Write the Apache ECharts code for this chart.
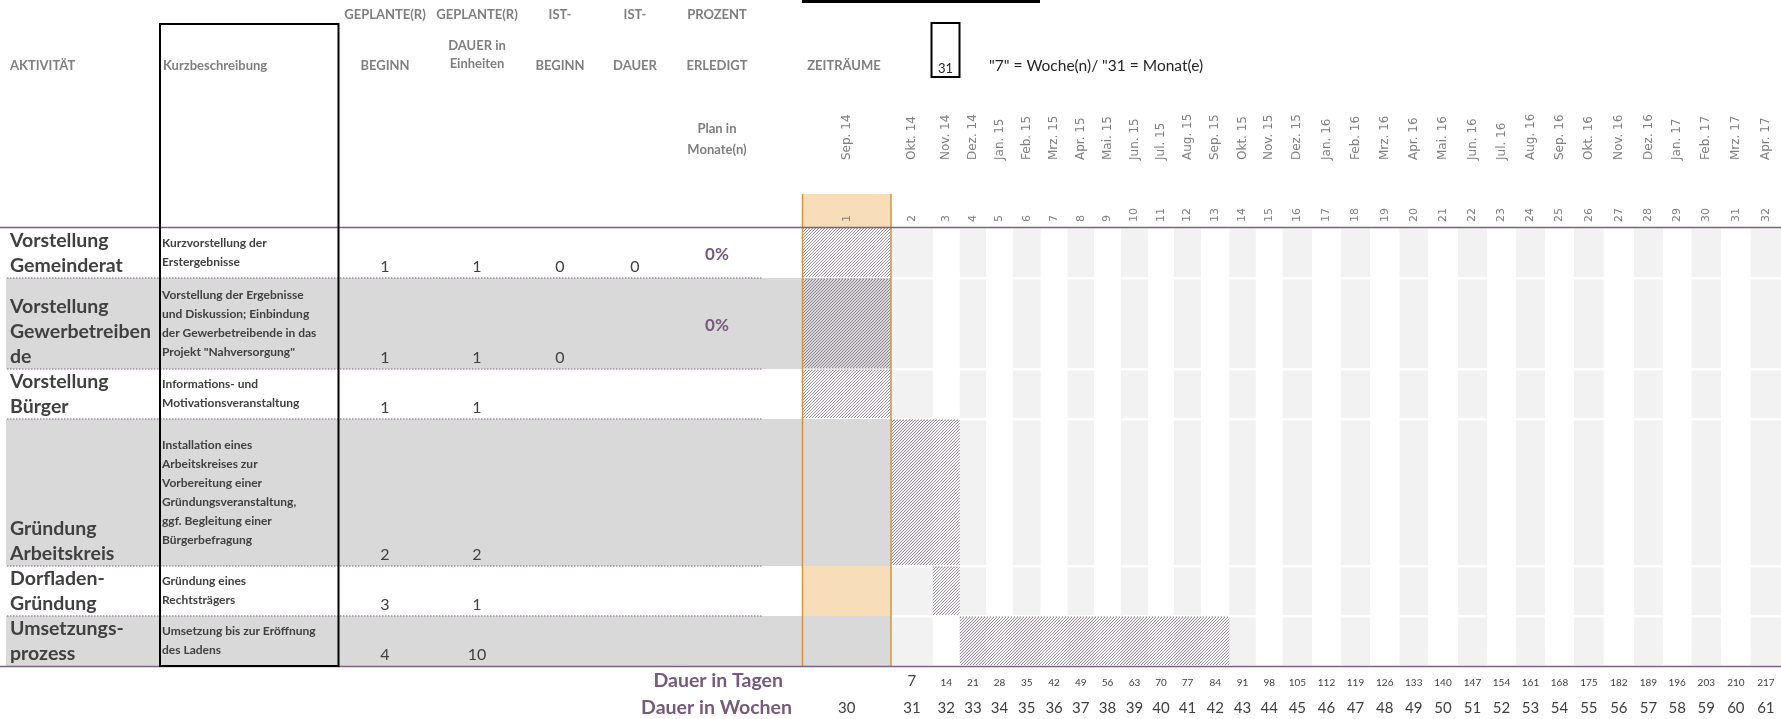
<!DOCTYPE html>
<html>
<head>
<meta charset="utf-8">
<title>Projektplan Dorfladen</title>
<script src="https://cdn.jsdelivr.net/npm/echarts@6/dist/echarts.min.js"></script>
<style>
  html, body { margin: 0; padding: 0; background: #fff; }
  #chart { width: 1781px; height: 719px; }
</style>
</head>
<body>
<div id="chart"></div>
<script>
// Daten
const activities = [
  ['Vorstellung', 'Gemeinderat'],
  ['Vorstellung', 'Gewerbetreiben', 'de'],
  ['Vorstellung', 'Bürger'],
  ['Gründung', 'Arbeitskreis'],
  ['Dorfladen-', 'Gründung'],
  ['Umsetzungs-', 'prozess']
];
const descriptions = [
  ['Kurzvorstellung der', 'Erstergebnisse'],
  ['Vorstellung der Ergebnisse', 'und Diskussion; Einbindung', 'der Gewerbetreibende in das', 'Projekt "Nahversorgung"'],
  ['Informations- und', 'Motivationsveranstaltung'],
  ['Installation eines', 'Arbeitskreises zur', 'Vorbereitung einer', 'Gründungsveranstaltung,', 'ggf. Begleitung einer', 'Bürgerbefragung'],
  ['Gründung eines', 'Rechtsträgers'],
  ['Umsetzung bis zur Eröffnung', 'des Ladens']
];
const planStart = [1, 1, 1, 2, 3, 4];
const planDuration = [1, 1, 1, 2, 1, 10];
const istStart = [0, 0, null, null, null, null];
const istDuration = [0, null, null, null, null, null];
const percentDone = [0, 0, null, null, null, null];

const months = ['Sep. 14', 'Okt. 14', 'Nov. 14', 'Dez. 14', 'Jan. 15', 'Feb. 15', 'Mrz. 15', 'Apr. 15',
  'Mai. 15', 'Jun. 15', 'Jul. 15', 'Aug. 15', 'Sep. 15', 'Okt. 15', 'Nov. 15', 'Dez. 15',
  'Jan. 16', 'Feb. 16', 'Mrz. 16', 'Apr. 16', 'Mai. 16', 'Jun. 16', 'Jul. 16', 'Aug. 16',
  'Sep. 16', 'Okt. 16', 'Nov. 16', 'Dez. 16', 'Jan. 17', 'Feb. 17', 'Mrz. 17', 'Apr. 17'];
const periods = [1, 2, 3, 4, 5, 6, 7, 8, 9, 10, 11, 12, 13, 14, 15, 16,
  17, 18, 19, 20, 21, 22, 23, 24, 25, 26, 27, 28, 29, 30, 31, 32];
const daysLabels = [null, 7, 14, 21, 28, 35, 42, 49, 56, 63, 70, 77, 84, 91, 98, 105,
  112, 119, 126, 133, 140, 147, 154, 161, 168, 175, 182, 189, 196, 203, 210, 217];
const weeksLabels = [30, 31, 32, 33, 34, 35, 36, 37, 38, 39, 40, 41, 42, 43, 44, 45,
  46, 47, 48, 49, 50, 51, 52, 53, 54, 55, 56, 57, 58, 59, 60, 61];

// Layout (Tabellenraster, in Achseneinheiten)
const rowEdges = [227, 278, 369, 419, 566, 616, 666];
const colEdges = [802.5, 891, 932.8, 959.8, 986, 1013, 1040.6, 1067.6, 1094, 1121, 1148, 1174,
  1201, 1229.4, 1255.7, 1282.7, 1312, 1341, 1370, 1399.5, 1428, 1458, 1487, 1516, 1545, 1574,
  1603.7, 1634, 1662.8, 1691.6, 1721, 1750.7, 1781];
const numCols = [385, 477, 560, 635];
const pctX = 717;

const PURPLE = '#76597b';
const TXT = '#404040';
const HEAD = '#7f7f7f';
const ORANGE = '#d9933a';
const ORANGE_FILL = '#f8ddb9';
const ROW_GRAY = '#d9d9d9';
const STRIPE = '#f2f2f2';
const FONT = 'Lato, "Open Sans", sans-serif';

// Schraffur (feine Diagonale)
const hatch = document.createElement('canvas');
hatch.width = 3; hatch.height = 3;
(function () {
  const ctx = hatch.getContext('2d');
  for (let i = 0; i < 3; i++) {
    ctx.fillStyle = 'rgba(105,88,115,0.68)';
    ctx.fillRect(i, 2 - i, 1, 1);
  }
})();
const hatchFill = { image: hatch, repeat: 'repeat' };

const chart = echarts.init(document.getElementById('chart'));

function X(api, v) { return api.coord([v, 0])[0]; }
function Y(api, v) { return api.coord([0, v])[1]; }
function txt(x, y, text, o) {
  return {
    type: 'text', x: x, y: y,
    style: Object.assign({
      text: String(text), fill: TXT, fontFamily: FONT, fontSize: 16,
      align: 'center', verticalAlign: 'middle'
    }, o || {})
  };
}

const rowIdx = activities.map((a, i) => [i]);
const colIdx = months.map((m, c) => [c]);

const option = {
  animation: false,
  backgroundColor: '#fff',
  grid: { left: 0, right: 0, top: 0, bottom: 0 },
  xAxis: { type: 'value', min: 0, max: 1781, show: false },
  yAxis: { type: 'value', min: 0, max: 719, inverse: true, show: false },
  series: [
    {
      // Zeilenhintergrund + Spaltenstreifen
      type: 'custom', name: 'rows', z: 1, data: rowIdx,
      renderItem(params, api) {
        const i = params.dataIndex;
        const top = Y(api, rowEdges[i]), bot = Y(api, rowEdges[i + 1]);
        const ch = [];
        if (i % 2 === 1) {
          ch.push({ type: 'rect', shape: { x: X(api, 6), y: top, width: X(api, colEdges[1]) - X(api, 6), height: bot - top }, style: { fill: ROW_GRAY } });
        } else if (planStart[i] !== 1) {
          ch.push({ type: 'rect', shape: { x: X(api, colEdges[0]), y: top, width: X(api, colEdges[1]) - X(api, colEdges[0]), height: bot - top }, style: { fill: ORANGE_FILL } });
        }
        for (let c = 1; c < months.length; c += 2) {
          const x0 = X(api, colEdges[c]), x1 = X(api, colEdges[c + 1]);
          ch.push({ type: 'rect', shape: { x: x0, y: top + 1.5, width: x1 - x0, height: bot - top - 2.5 }, style: { fill: STRIPE } });
        }
        return { type: 'group', children: ch };
      }
    },
    {
      // geplante Balken
      type: 'custom', name: 'plan', z: 2,
      data: planStart.map((s, i) => [i, s, planDuration[i]]),
      renderItem(params, api) {
        const i = api.value(0), s = api.value(1), d = api.value(2);
        const x0 = X(api, colEdges[s - 1]), x1 = X(api, colEdges[s - 1 + d]);
        const top = Y(api, rowEdges[i]) + 1, bot = Y(api, rowEdges[i + 1]) - 1;
        return {
          type: 'group', children: [
            { type: 'rect', shape: { x: x0, y: top, width: x1 - x0, height: bot - top }, style: { fill: hatchFill } },
            { type: 'line', shape: { x1: x0, y1: top, x2: x1, y2: top }, style: { stroke: '#8a7590', lineWidth: 1, lineDash: [1, 2] } }
          ]
        };
      }
    },
    {
      // Tabellentexte
      type: 'custom', name: 'table', z: 5, data: rowIdx,
      renderItem(params, api) {
        const i = params.dataIndex;
        const top = Y(api, rowEdges[i]), bot = Y(api, rowEdges[i + 1]);
        const mid = (top + bot) / 2;
        const ch = [];
        const a = activities[i];
        a.forEach((line, k) => {
          ch.push(txt(X(api, 10), bot - 12 - (a.length - 1 - k) * 25, line,
            { align: 'left', fontSize: 19.5, fontWeight: 'bold' }));
        });
        const d = descriptions[i];
        d.forEach((line, k) => {
          ch.push(txt(X(api, 162), mid + (k - (d.length - 1) / 2) * 19, line,
            { align: 'left', fontSize: 12, fontWeight: 'bold' }));
        });
        [planStart[i], planDuration[i], istStart[i], istDuration[i]].forEach((v, k) => {
          if (v !== null) ch.push(txt(X(api, numCols[k]), bot - 11, v, { fontSize: 16 }));
        });
        if (percentDone[i] !== null) {
          ch.push(txt(X(api, pctX), mid + 2, percentDone[i] + '%', { fontSize: 17, fontWeight: 'bold', fill: PURPLE }));
        }
        return { type: 'group', children: ch };
      }
    },
    {
      // Monatsköpfe und Periodennummern
      type: 'custom', name: 'months', z: 5, data: colIdx,
      renderItem(params, api) {
        const c = params.dataIndex;
        const cx = (X(api, colEdges[c]) + X(api, colEdges[c + 1])) / 2;
        const base = { fontFamily: '"DejaVu Sans", Verdana, sans-serif', fontSize: 12, fill: '#808080', align: 'left' };
        const m = txt(cx, Y(api, 160), months[c], base);
        m.rotation = Math.PI / 2;
        const n = txt(cx, Y(api, 222), periods[c], Object.assign({}, base, { fontSize: 11 }));
        n.rotation = Math.PI / 2;
        return { type: 'group', children: [m, n] };
      }
    },
    {
      // Dauer in Tagen / Wochen
      type: 'custom', name: 'dauer', z: 5, data: colIdx,
      renderItem(params, api) {
        const c = params.dataIndex;
        const cx = (X(api, colEdges[c]) + X(api, colEdges[c + 1])) / 2;
        const ch = [txt(cx, Y(api, 708), weeksLabels[c], { fontSize: 15 })];
        const dv = daysLabels[c];
        if (dv !== null) {
          ch.push(txt(cx, Y(api, dv < 10 ? 681 : 683), dv, { fontSize: dv < 10 ? 15 : 10 }));
        }
        return { type: 'group', children: ch };
      }
    }
  ],
  graphic: {
    elements: [
      // aktueller Zeitraum (Kopf)
      { type: 'rect', z: 0, shape: { x: 802.5, y: 194, width: 88.5, height: 33 }, style: { fill: ORANGE_FILL } },
      { type: 'line', z: 6, shape: { x1: 802.5, y1: 194, x2: 802.5, y2: 666 }, style: { stroke: ORANGE, lineWidth: 1.5 } },
      { type: 'line', z: 6, shape: { x1: 891, y1: 194, x2: 891, y2: 666 }, style: { stroke: ORANGE, lineWidth: 1.5 } },
      // Linien
      { type: 'line', z: 7, shape: { x1: 0, y1: 227.5, x2: 1781, y2: 227.5 }, style: { stroke: '#7b5f80', lineWidth: 1.5 } },
      { type: 'line', z: 7, shape: { x1: 0, y1: 666.5, x2: 1781, y2: 666.5 }, style: { stroke: '#7b5f80', lineWidth: 1.5 } },
      ...[278, 369, 419, 566, 616].map(y => ({
        type: 'line', z: 7, shape: { x1: 7, y1: y, x2: 763, y2: y },
        style: { stroke: '#a38fa6', lineWidth: 1.5, lineDash: [1.5, 1.5] }
      })),
      { type: 'rect', z: 8, shape: { x: 160, y: 24, width: 178.5, height: 642 }, style: { fill: 'none', stroke: '#000', lineWidth: 2 } },
      { type: 'line', z: 8, shape: { x1: 802, y1: 1.5, x2: 1040, y2: 1.5 }, style: { stroke: '#000', lineWidth: 3 } },
      { type: 'rect', z: 8, shape: { x: 931.5, y: 23, width: 28, height: 54 }, style: { fill: 'none', stroke: '#000', lineWidth: 2 } },
      // Kopfzeilen
      ...[
        ['GEPLANTE(R)', 385, 15], ['GEPLANTE(R)', 477, 15], ['IST-', 560, 15], ['IST-', 635, 15], ['PROZENT', 717, 15],
        ['BEGINN', 385, 66], ['DAUER in', 477, 46], ['Einheiten', 477, 64], ['BEGINN', 560, 66], ['DAUER', 635, 66],
        ['ERLEDIGT', 717, 66], ['Plan in', 717, 129], ['Monate(n)', 717, 150], ['ZEITRÄUME', 844, 66]
      ].map(h => ({
        type: 'text', z: 9, x: h[1], y: h[2],
        style: { text: h[0], fill: HEAD, fontFamily: FONT, fontSize: 13, fontWeight: 'bold', align: 'center', verticalAlign: 'middle' }
      })),
      { type: 'text', z: 9, x: 10, y: 66, style: { text: 'AKTIVITÄT', fill: HEAD, fontFamily: FONT, fontSize: 13, fontWeight: 'bold', align: 'left', verticalAlign: 'middle' } },
      { type: 'text', z: 9, x: 163, y: 66, style: { text: 'Kurzbeschreibung', fill: HEAD, fontFamily: FONT, fontSize: 13, fontWeight: 'bold', align: 'left', verticalAlign: 'middle' } },
      { type: 'text', z: 9, x: 945.5, y: 69, style: { text: '31', fill: '#262626', fontFamily: FONT, fontSize: 13, align: 'center', verticalAlign: 'middle' } },
      { type: 'text', z: 9, x: 989, y: 66, style: { text: '"7" = Woche(n)/ "31 = Monat(e)', fill: '#262626', fontFamily: FONT, fontSize: 15.5, align: 'left', verticalAlign: 'middle' } },
      { type: 'text', z: 9, x: 783, y: 681, style: { text: 'Dauer in Tagen', fill: PURPLE, fontFamily: FONT, fontSize: 19.5, fontWeight: 'bold', align: 'right', verticalAlign: 'middle' } },
      { type: 'text', z: 9, x: 792, y: 708, style: { text: 'Dauer in Wochen', fill: PURPLE, fontFamily: FONT, fontSize: 19.5, fontWeight: 'bold', align: 'right', verticalAlign: 'middle' } }
    ]
  }
};

chart.setOption(option);
</script>
</body>
</html>
